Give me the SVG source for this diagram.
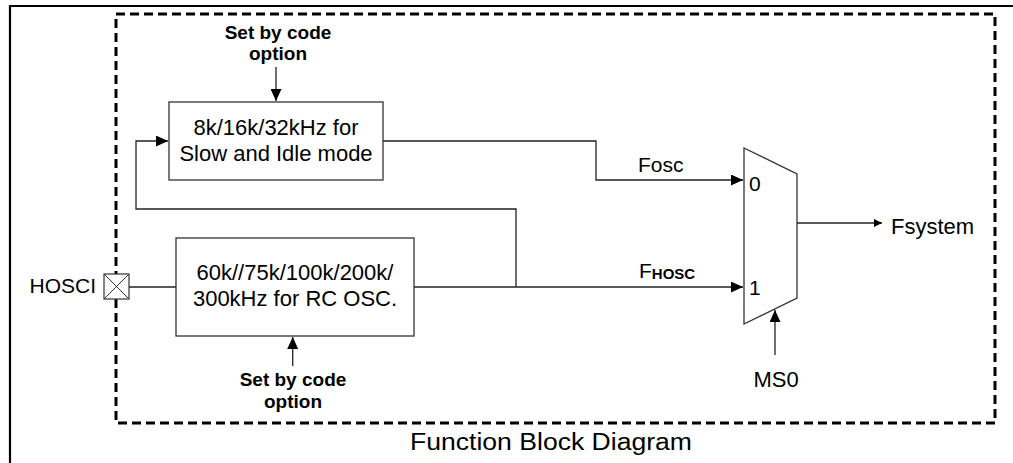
<svg xmlns="http://www.w3.org/2000/svg" width="1013" height="463" viewBox="0 0 1013 463">
<style>
text{font-family:"Liberation Sans",Arial,sans-serif;fill:#000}
.t{font-size:22px}
.b{font-size:19px;font-weight:bold}
.box{fill:#fff;stroke:#333;stroke-width:1.3}
.w{fill:none;stroke:#222;stroke-width:1.3}
</style>
<defs>
<marker id="ah" markerUnits="userSpaceOnUse" markerWidth="13" markerHeight="11" refX="12" refY="5.5" orient="auto">
<path d="M0,0 L12,5.5 L0,11 Z" fill="#000"/>
</marker>
<marker id="as" markerUnits="userSpaceOnUse" markerWidth="9" markerHeight="8" refX="8" refY="4" orient="auto">
<path d="M0,0 L8,4 L0,8 Z" fill="#000"/>
</marker>
</defs>
<g id="frame">
<path d="M10,463 V6 H1013" fill="none" stroke="#000" stroke-width="2.2"/>
<rect x="116" y="14" width="879" height="409" fill="none" stroke="#000" stroke-width="3" stroke-dasharray="9,5"/>
</g>
<g id="connectors">
<path class="w" d="M276,67 V101" marker-end="url(#ah)"/>
<path class="w" d="M292.7,366 V337" marker-end="url(#ah)"/>
<path class="w" d="M129,287 H176"/>
<path class="w" d="M414,287 H743" marker-end="url(#ah)"/>
<path class="w" d="M516,287 V209 H136 V141 H168" marker-end="url(#ah)"/>
<path class="w" d="M383,141 H596 V180 H743" marker-end="url(#ah)"/>
<path class="w" d="M797,223 H882" marker-end="url(#as)"/>
<path class="w" d="M775,355 V310" marker-end="url(#ah)"/>
</g>
<g id="label-top">
<text class="b" x="278" y="39" text-anchor="middle">Set by code</text>
<text class="b" x="278" y="60" text-anchor="middle">option</text>
</g>
<g id="slow-osc">
<rect class="box" x="169" y="102" width="214" height="78"/>
<text class="t" x="276" y="135" text-anchor="middle">8k/16k/32kHz for</text>
<text class="t" x="276" y="161" text-anchor="middle">Slow and Idle mode</text>
</g>
<g id="rc-osc">
<rect class="box" x="176" y="238" width="238" height="98"/>
<text class="t" x="295" y="280" text-anchor="middle">60k//75k/100k/200k/</text>
<text class="t" x="295" y="306" text-anchor="middle">300kHz for RC OSC.</text>
</g>
<g id="label-bottom">
<text class="b" x="293" y="386" text-anchor="middle">Set by code</text>
<text class="b" x="293" y="408" text-anchor="middle">option</text>
</g>
<g id="hosci">
<rect x="104" y="274" width="25" height="25" fill="#fff" stroke="#333" stroke-width="1.2"/>
<path d="M104,274 L129,299 M129,274 L104,299" stroke="#333" stroke-width="1"/>
<text x="96" y="293" text-anchor="end" style="font-size:21px">HOSCI</text>
</g>
<g id="mux">
<path class="box" d="M744,148 L797,174 V298 L744,324 Z"/>
<text x="749" y="191" style="font-size:21px">0</text>
<text x="749" y="295" style="font-size:21px">1</text>
</g>
<g id="signal-labels">
<text x="638" y="172" style="font-size:21px">Fosc</text>
<text x="639" y="278" style="font-size:21px">F<tspan style="font-size:15px;font-weight:bold" dy="1">HOSC</tspan></text>
<text class="t" x="891" y="234">Fsystem</text>
<text class="t" x="776" y="387" text-anchor="middle">MS0</text>
</g>
<g id="caption">
<text x="410" y="450" style="font-size:23px" textLength="282" lengthAdjust="spacingAndGlyphs">Function Block Diagram</text>
</g>
</svg>
